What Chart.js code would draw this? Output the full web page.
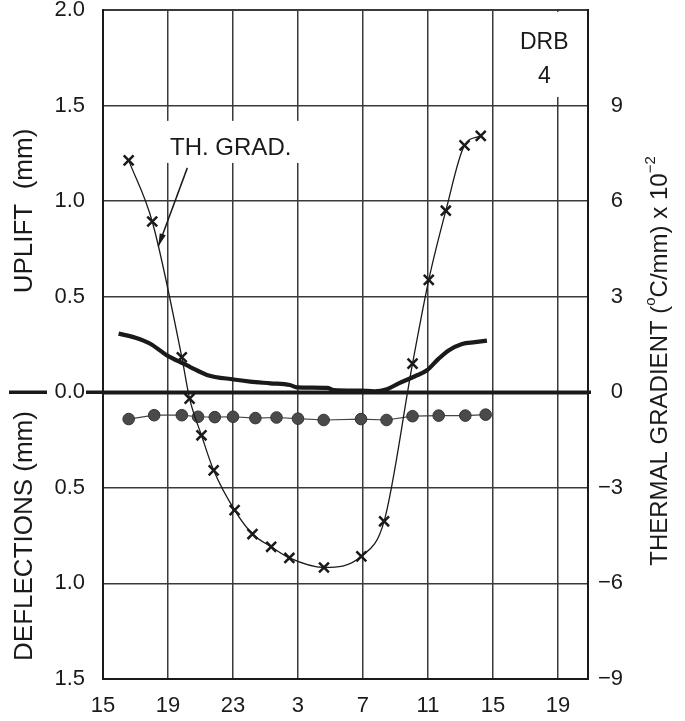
<!DOCTYPE html>
<html><head><meta charset="utf-8">
<script src="https://cdn.jsdelivr.net/npm/chart.js@4"></script>
<style>html,body{margin:0;padding:0;background:#fff;} canvas{display:block;}</style>
</head><body>
<canvas id="c" width="685" height="721"></canvas>
<script>
// x values are hours elapsed since 15:00 on day 1
const xTickLabels = ['15','19','23','3','7','11','15','19'];
const gradHours  = [1.58, 3.03, 4.85, 5.33, 6.06, 6.81, 8.1, 9.2, 10.35, 11.47, 13.6, 15.9, 17.3, 19.05, 20.05, 21.1, 22.25, 23.25];
const gradValues = [7.28, 5.36, 1.1, -0.2, -1.35, -2.45, -3.7, -4.45, -4.85, -5.2, -5.5, -5.15, -4.05, 0.9, 3.53, 5.7, 7.75, 8.05];
const deflHours  = [1.58, 3.15, 4.85, 5.85, 6.88, 8.0, 9.38, 10.68, 12.0, 13.58, 15.88, 17.45, 19.05, 20.66, 22.3, 23.55];
const deflValues = [-0.14, -0.12, -0.12, -0.128, -0.13, -0.128, -0.135, -0.132, -0.138, -0.145, -0.14, -0.145, -0.125, -0.122, -0.122, -0.117];
const upliftHours  = [0.96, 2.0, 2.91, 3.94, 5.0, 5.37, 6.4, 8.04, 9.06, 10.3, 11.5, 11.94, 13.8, 14.2, 15.83, 16.7, 17.47, 18.2, 19.2, 19.94, 20.66, 21.27, 22.1, 22.9, 23.63];
const upliftValues = [0.307, 0.285, 0.254, 0.193, 0.148, 0.132, 0.091, 0.067, 0.056, 0.047, 0.038, 0.026, 0.023, 0.012, 0.009, 0.005, 0.016, 0.047, 0.084, 0.115, 0.176, 0.219, 0.253, 0.262, 0.27];

const FONT = '"Liberation Sans", Arial, Helvetica, sans-serif';
const INK = '#1a1a1a';
const GRID = '#3a3a3a';
const toXY = (xs, ys) => xs.map((v, i) => ({x: v, y: ys[i]}));

const overlay = {
  id: 'overlay',
  beforeDatasetsDraw(chart) {
    const {ctx, scales: {x, y}, chartArea} = chart;
    ctx.save();
    ctx.fillStyle = '#fff';
    // white area behind "DRB 4"
    const bx0 = x.getPixelForValue(25.6), bx1 = x.getPixelForValue(29.3);
    const by0 = y.getPixelForValue(2.0) + 2, by1 = y.getPixelForValue(1.545);
    ctx.fillRect(bx0, by0, bx1 - bx0, by1 - by0);
    // white area behind "TH. GRAD."
    const tx0 = x.getPixelForValue(3.8), tx1 = x.getPixelForValue(12.2);
    const ty0 = y.getPixelForValue(1.42), ty1 = y.getPixelForValue(1.2);
    ctx.fillRect(tx0, ty0, tx1 - tx0, ty1 - ty0);
    // heavy zero line, extended left
    const y0 = y.getPixelForValue(0);
    ctx.strokeStyle = INK; ctx.lineWidth = 3.5;
    ctx.beginPath(); ctx.moveTo(86, y0); ctx.lineTo(chartArea.right + 3, y0); ctx.stroke();
    ctx.beginPath(); ctx.moveTo(9, y0); ctx.lineTo(47, y0); ctx.stroke();
    ctx.restore();
  },
  afterDatasetsDraw(chart) {
    const {ctx, scales: {x, y}} = chart;
    ctx.save();
    ctx.fillStyle = INK; ctx.strokeStyle = INK;
    ctx.font = '23px ' + FONT;
    ctx.textAlign = 'center'; ctx.textBaseline = 'middle';
    ctx.fillText('DRB', x.getPixelForValue(27.16), y.getPixelForValue(1.827));
    ctx.fillText('4', x.getPixelForValue(27.16), y.getPixelForValue(1.649));
    ctx.font = '24px ' + FONT;
    ctx.fillText('TH. GRAD.', x.getPixelForValue(7.86), y.getPixelForValue(1.276));
    // arrow
    const ax0 = x.getPixelForValue(5.19), ay0 = y.getPixelForValue(1.174);
    const ax1 = x.getPixelForValue(3.4), ay1 = y.getPixelForValue(0.763);
    ctx.lineWidth = 1.5;
    ctx.beginPath(); ctx.moveTo(ax0, ay0); ctx.lineTo(ax1, ay1); ctx.stroke();
    const ang = Math.atan2(ay1 - ay0, ax1 - ax0);
    const L = 13, W = 3.2;
    ctx.beginPath();
    ctx.moveTo(ax1, ay1);
    ctx.lineTo(ax1 - L*Math.cos(ang) + W*Math.sin(ang), ay1 - L*Math.sin(ang) - W*Math.cos(ang));
    ctx.lineTo(ax1 - L*Math.cos(ang) - W*Math.sin(ang), ay1 - L*Math.sin(ang) + W*Math.cos(ang));
    ctx.closePath(); ctx.fill();
    // left axis titles
    ctx.font = '26px ' + FONT;
    ctx.textAlign = 'center';
    ctx.save(); ctx.translate(25, 211); ctx.rotate(-Math.PI/2);
    ctx.fillText('UPLIFT  (mm)', 0, 0); ctx.restore();
    ctx.save(); ctx.translate(25, 536); ctx.rotate(-Math.PI/2);
    ctx.fillText('DEFLECTIONS (mm)', 0, 0); ctx.restore();
    // right axis title with superscripts
    const segs = [
      {t: 'THERMAL GRADIENT (', sup: false},
      {t: 'o', sup: true},
      {t: 'C/mm) x 10', sup: false},
      {t: '\u22122', sup: true}
    ];
    const mainF = '24px ' + FONT, supF = '15px ' + FONT;
    let total = 0;
    segs.forEach(s => { ctx.font = s.sup ? supF : mainF; s.w = ctx.measureText(s.t).width; total += s.w; });
    ctx.save(); ctx.translate(660, 361); ctx.rotate(-Math.PI/2);
    ctx.textAlign = 'left';
    let cx = -total/2;
    segs.forEach(s => { ctx.font = s.sup ? supF : mainF; ctx.fillText(s.t, cx, s.sup ? -9 : 0); cx += s.w; });
    ctx.restore();
    ctx.restore();
  }
};

function noPad(s) { s.paddingTop = 0; s.paddingBottom = 0; s.paddingLeft = 0; s.paddingRight = 0; }

new Chart(document.getElementById('c'), {
  type: 'line',
  data: {
    datasets: [
      {
        label: 'Thermal gradient',
        data: toXY(gradHours, gradValues),
        yAxisID: 'y2',
        borderColor: INK, borderWidth: 1.3,
        cubicInterpolationMode: 'monotone',
        pointStyle: 'crossRot', pointRadius: 7, pointBorderWidth: 2.5,
        pointBorderColor: INK, pointBackgroundColor: INK,
        order: 1
      },
      {
        label: 'Deflections',
        data: toXY(deflHours, deflValues),
        yAxisID: 'y',
        borderColor: '#444', borderWidth: 1.2,
        pointStyle: 'circle', pointRadius: 5.8, pointBorderWidth: 1,
        pointBorderColor: '#333', pointBackgroundColor: '#4a4a4a',
        order: 2
      },
      {
        label: 'Uplift',
        data: toXY(upliftHours, upliftValues),
        yAxisID: 'y',
        borderColor: INK, borderWidth: 4.2,
        cubicInterpolationMode: 'monotone',
        pointRadius: 0,
        order: 3
      }
    ]
  },
  options: {
    responsive: false,
    animation: false,
    devicePixelRatio: 1,
    layout: {padding: {top: 10, left: 0, right: 62, bottom: 0}},
    plugins: {legend: {display: false}, tooltip: {enabled: false}},
    scales: {
      x: {
        type: 'linear', min: 0, max: 29.85,
        afterFit(s) { s.height = 42; noPad(s); },
        ticks: {
          stepSize: 4, includeBounds: false, autoSkip: false, maxRotation: 0,
          padding: 14, color: INK, font: {family: FONT, size: 22},
          callback: v => xTickLabels[Math.round(v / 4)]
        },
        grid: {color: GRID, lineWidth: 1.5, drawTicks: false},
        border: {display: true, color: INK, width: 2}
      },
      y: {
        type: 'linear', position: 'left', min: -1.5, max: 2.0,
        afterFit(s) { s.width = 103; noPad(s); },
        ticks: {
          stepSize: 0.5, padding: 18, color: INK, font: {family: FONT, size: 22},
          callback: v => Math.abs(v).toFixed(1)
        },
        grid: {
          drawTicks: false,
          color: c => (c.tick && c.tick.value === 0) ? INK : GRID,
          lineWidth: c => (c.tick && c.tick.value === 0) ? 3.5 : (c.tick && c.tick.value === 2) ? 2 : 1.5
        },
        border: {display: true, color: INK, width: 2}
      },
      y2: {
        type: 'linear', position: 'right', min: -9, max: 12,
        afterFit(s) { s.width = 35; noPad(s); },
        ticks: {
          stepSize: 3, padding: 4, crossAlign: 'far', color: INK, font: {family: FONT, size: 22},
          callback: v => v > 9 ? '' : (v < 0 ? '\u2212' + Math.abs(v) : String(v))
        },
        grid: {display: false, drawTicks: false},
        border: {display: true, color: INK, width: 2}
      }
    }
  },
  plugins: [overlay]
});
</script>
</body></html>
